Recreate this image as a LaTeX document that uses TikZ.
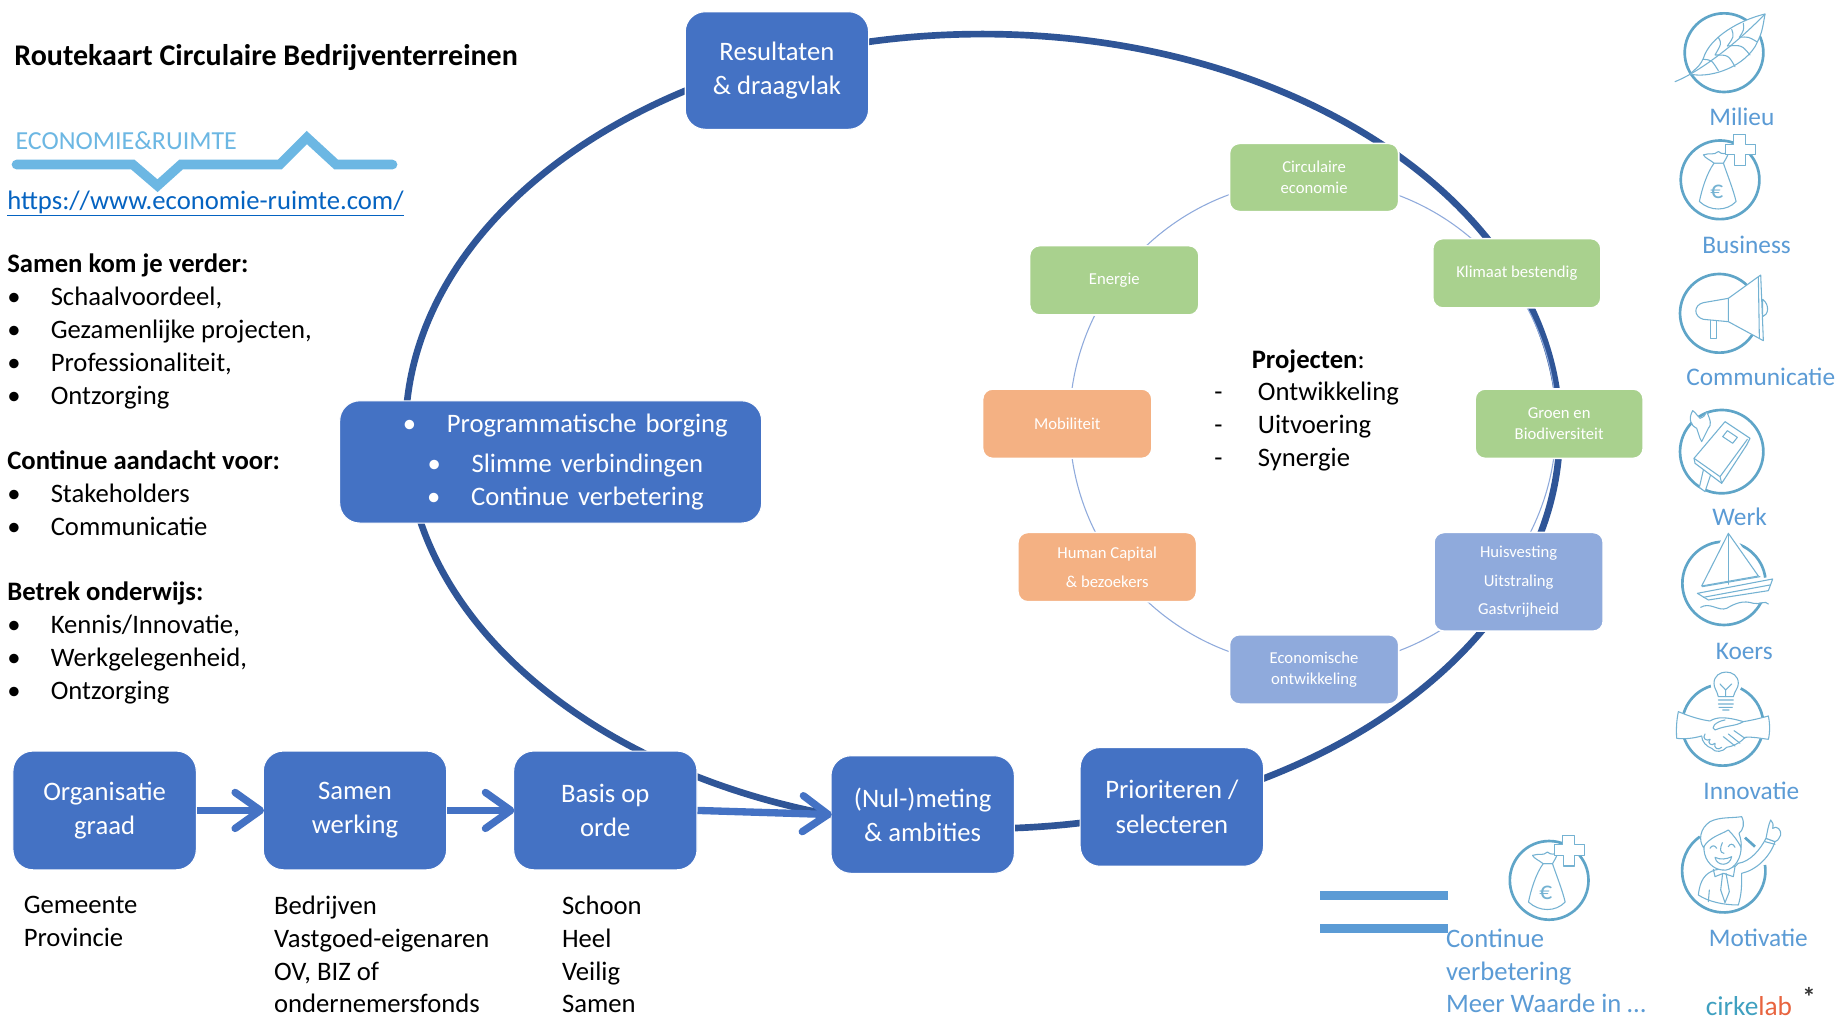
\documentclass[tikz,border=0pt]{standalone}
\usepackage{fontspec}
\setmainfont{Carlito}
\usetikzlibrary{arrows.meta}
\definecolor{boxblue}{HTML}{4472C4}
\definecolor{darkring}{HTML}{2F5597}
\definecolor{innergreen}{HTML}{A9D18E}
\definecolor{innerorange}{HTML}{F4B183}
\definecolor{innerblue}{HTML}{8FAADC}
\definecolor{labelblue}{HTML}{5B9BD5}
\definecolor{logoblue}{HTML}{6CB7E3}
\definecolor{linkblue}{HTML}{0563C1}
\definecolor{ringicon}{HTML}{5FA5C8}
\definecolor{thinicon}{HTML}{74B2D2}
\definecolor{cirkblue}{HTML}{3FA0C0}
\definecolor{cirkred}{HTML}{E8643F}
\newcommand{\mainfs}{\fontsize{20}{24.6}\selectfont}
\newcommand{\bigbox}[6]{\node[bigstyle,minimum width={(#4-#2)*0.88155pt},minimum height={(#5-#3)*0.88155pt}] (#1) at ({(#2+#4)/2},{(#3+#5)/2}) {#6};}
\newcommand{\smallbox}[7]{\node[smallstyle,fill=#6,minimum width={(#4-#2)*0.88155pt},minimum height={(#5-#3)*0.88155pt}] (#1) at ({(#2+#4)/2},{(#3+#5)/2}) {#7};}
\newcommand{\lbl}[4]{\node[labelstyle] (#1) at (#2,#3) {#4};}
\newcommand{\bul}[1]{\makebox[32.6pt][l]{•}#1}
\newcommand{\bagicon}[2]{%
\begin{scope}[shift={(#1,#2)},scale=.2836]
\draw[iconring] (0,0) circle (118);
\filldraw[iconthin,fill=white] (-18,-50) .. controls (-40,-20) and (-55,30) .. (-62,65) .. controls (-30,95) and (20,95) .. (48,65) .. controls (40,30) and (20,-20) .. (10,-50) -- cycle;
\filldraw[iconthin,fill=white] (-18,-50) .. controls (-30,-60) and (-45,-65) .. (-50,-75) .. controls (-30,-82) and (-20,-72) .. (-5,-85) .. controls (5,-75) and (15,-80) .. (25,-80) .. controls (20,-65) and (15,-60) .. (10,-50) -- cycle;
\filldraw[iconthin,fill=white] (40,-135) -- (75,-135) -- (75,-107) -- (106,-107) -- (106,-75) -- (75,-75) -- (75,-43) -- (43,-43) -- (43,-75) -- (15,-75) -- (15,-107) -- (40,-107) -- cycle;
\node[text=thinicon,font=\fontsize{19}{19}\selectfont,inner sep=0pt] at (-10,37) {€};
\end{scope}}
\tikzset{
  x=0.88155pt,y=-0.88155pt,
  bigstyle/.style={rounded corners=15pt,fill=boxblue,draw=white,line width=.8pt,text=white,align=center,inner sep=0pt,font=\mainfs},
  smallstyle/.style={rounded corners=7.5pt,draw=white,line width=1.2pt,text=white,align=center,inner sep=0pt,font=\fontsize{12.5}{15.5}\selectfont},
  labelstyle/.style={text=labelblue,inner sep=0pt,font=\fontsize{19}{19}\selectfont},
  bodytext/.style={anchor=north west,align=left,inner sep=0pt,font=\mainfs},
  flowarrow/.style={line width=5.5pt,draw=boxblue,-{Straight Barb[length=19pt,width=27pt,line width=5.5pt,round]},shorten >=-1pt},
  iconring/.style={draw=ringicon,line width=2pt},
  iconthin/.style={draw=thinicon,line width=.8pt,line join=round,line cap=round},
}
\begin{document}
\begin{tikzpicture}
\path[use as bounding box,fill=white] (0,0) rectangle (1568,867);

% big ring and inner ring
\draw[darkring,line width=5pt] (836,367) ellipse [x radius=491,y radius=338];
\draw[innerblue,line width=.8pt] (1117,360) circle (207);

% main boxes
\bigbox{res}{583}{10}{739}{110}{Resultaten\\[1pt]\& draagvlak}
\node[bigstyle,text width={(648-289)*0.88155pt},minimum height={(445-341)*0.88155pt}] (prog) at (468.5,393) {\fontsize{20}{30.4}\selectfont\hspace*{22pt}\makebox[33pt][l]{•}Programmatische borging\\\hspace*{22pt}\makebox[33pt][l]{•}Slimme verbindingen\\\hspace*{22pt}\makebox[33pt][l]{•}Continue verbetering};
\bigbox{org}{11}{639}{167}{740}{Organisatie\\[1pt]graad}
\bigbox{sam}{224}{639}{380}{740}{Samen\\[1pt]werking}
\bigbox{bas}{437}{639}{593}{740}{Basis op\\[1pt]orde}
\bigbox{nul}{707}{643}{863}{743}{(Nul-)meting\\[1pt]\& ambities}
\bigbox{pri}{919}{636}{1075}{737}{Prioriteren /\\[1pt]selecteren}
\draw[flowarrow] (org) -- (sam);
\draw[flowarrow] (sam) -- (bas);
\draw[flowarrow] (bas.east) -- (nul.west);

% inner boxes
\smallbox{cir}{1046}{122}{1190}{180}{innergreen}{Circulaire\\economie}
\smallbox{kli}{1219}{203}{1362}{262}{innergreen}{Klimaat bestendig}
\smallbox{gro}{1255}{331}{1398}{390}{innergreen}{Groen en\\Biodiversiteit}
\smallbox{hui}{1220}{453}{1364}{537}{innerblue}{Huisvesting\\[6pt]Uitstraling\\[6pt]Gastvrijheid}
\smallbox{eco}{1046}{540}{1190}{599}{innerblue}{Economische\\ontwikkeling}
\smallbox{hum}{866}{453}{1018}{512}{innerorange}{Human Capital\\[6pt]\& bezoekers}
\smallbox{mob}{836}{331}{980}{390}{innerorange}{Mobiliteit}
\smallbox{ene}{876}{209}{1020}{268}{innergreen}{Energie}

% texts
\node[anchor=west,inner sep=0pt,font=\fontsize{22.5}{26}\selectfont\bfseries] (title) at (12,49) {Routekaart Circulaire Bedrijventerreinen};
\node[anchor=west,inner sep=0pt,text=linkblue,font=\mainfs] (link) at (6,173) {\underline{https://www.economie-ruimte.com/}};
\node[bodytext] (left) at (6,216) {\textbf{Samen kom je verder:}\\\bul{Schaalvoordeel,}\\\bul{Gezamenlijke projecten,}\\\bul{Professionaliteit,}\\\bul{Ontzorging}\\\mbox{}\\\textbf{Continue aandacht voor:}\\\bul{Stakeholders}\\\bul{Communicatie}\\\mbox{}\\\textbf{Betrek onderwijs:}\\\bul{Kennis/Innovatie,}\\\bul{Werkgelegenheid,}\\\bul{Ontzorging}};
\node[bodytext] (gem) at (20,762) {Gemeente\\Provincie};
\node[bodytext] (bed) at (233,762) {Bedrijven\\Vastgoed-eigenaren\\OV, BIZ of\\ondernemersfonds};
\node[bodytext] (sch) at (478,762) {Schoon\\Heel\\Veilig\\Samen};
\node[bodytext] (pro) at (1033,297) {\hspace*{28pt}\textbf{Projecten}:\\\makebox[32.6pt][l]{-}Ontwikkeling\\\makebox[32.6pt][l]{-}Uitvoering\\\makebox[32.6pt][l]{-}Synergie};
\node[bodytext,text=labelblue] (con) at (1230,790) {Continue\\verbetering\\Meer Waarde in \dots};

% right labels
\lbl{mil}{1482}{99}{Milieu}
\lbl{bus}{1486}{208}{Business}
\lbl{com}{1498}{321}{Communicatie}
\lbl{wer}{1480}{440}{Werk}
\lbl{koe}{1484}{554}{Koers}
\lbl{inn}{1490}{673}{Innovatie}
\lbl{mot}{1496}{798}{Motivatie}
\node[inner sep=0pt,font=\fontsize{20.5}{20}\selectfont] (cirk) at (1488,856) {\textcolor{cirkblue}{cirke}\textcolor{cirkred}{lab}};
\node[inner sep=0pt,font=\fontsize{20}{20}\selectfont\bfseries,text=black!80] (star) at (1539,848) {*};

% equals sign
\fill[labelblue] (1123,758) rectangle (1232,766);
\fill[labelblue] (1123,786) rectangle (1232,794);

% logo
\draw[logoblue,line width=7.2pt,line cap=round,line join=miter] (14,140) -- (113,140) -- (134,158) -- (154,140) -- (238,140) -- (261,117) -- (286,140) -- (334,140);
\node[anchor=west,inner sep=0pt,text=logoblue,font=\fontsize{19.5}{20}\selectfont] (logo) at (13,120) {ECONOMIE\&RUIMTE};

% Icons, zoom-pixel coordinates
\begin{scope}[shift={(1395.3,0)},scale=.2836]
 % leaf
 \draw[iconring] (252,158) circle (118);
 \filldraw[iconthin,fill=white] (375,42) .. controls (300,60) and (210,110) .. (190,175) .. controls (180,195) .. (150,222) .. controls (200,235) and (300,210) .. (345,140) .. controls (365,100) .. (375,42) -- cycle;
 \draw[iconthin] (105,245) .. controls (180,215) and (290,130) .. (375,42);
 \draw[iconthin] (235,112) .. controls (245,130) .. (225,165) (275,88) .. controls (282,110) .. (262,138) (310,70) .. controls (312,90) .. (298,112) (190,178) .. controls (215,180) .. (235,212) (225,165) .. controls (265,165) .. (285,200) (262,138) .. controls (305,135) .. (330,165) (298,112) .. controls (325,110) .. (350,125);
 % megaphone
 \draw[iconring] (238,940) circle (118);
 \filldraw[iconthin,fill=white] (368,900) arc (-90:90:-1) .. controls (390,915) and (385,945) .. (368,950) -- cycle;
 \filldraw[iconthin,fill=white] (210,950) -- (210,1015) -- (228,1015) -- (228,950) -- cycle;
 \filldraw[iconthin,fill=white] (190,908) -- (265,895) -- (362,825) -- (370,1022) -- (265,965) -- (190,958) .. controls (160,950) and (160,915) .. (190,908) -- cycle;
 \draw[iconthin] (265,895) -- (265,965) (355,832) -- (358,1015);
\end{scope}
\begin{scope}[shift={(1395.3,340.3)},scale=.2836]
 % book and wrench
 \draw[iconring] (245,155) circle (125);
 \filldraw[iconthin,fill=white] (185,125) -- (205,85) .. controls (215,75) and (212,62) .. (200,35) .. controls (192,50) .. (180,55) .. controls (172,50) and (170,40) .. (158,32) .. controls (145,55) and (150,75) .. (170,85) -- (180,115) -- cycle;
 \filldraw[iconthin,fill=white] (190,210) -- (178,262) -- (195,275) -- (215,215) -- cycle;
 \filldraw[iconthin,fill=white] (255,65) -- (330,115) -- (320,135) -- (245,250) -- (165,190) -- (162,175) -- cycle;
 \draw[iconthin] (162,175) -- (240,230) -- (322,118) (240,230) -- (245,250);
 \filldraw[iconthin,fill=white] (262,92) -- (292,112) -- (278,130) -- (248,110) -- cycle;
 % boat
 \draw[iconring] (252,550) circle (125);
 \filldraw[iconthin,fill=white,draw=white,line width=5pt] (265,400) -- (185,558) -- (355,528) -- cycle;
 \filldraw[iconthin,fill=white] (265,400) -- (185,558) -- (355,528) -- cycle;
 \draw[iconthin] (265,400) -- (265,555);
 \filldraw[iconthin,fill=white,draw=white,line width=4pt] (172,580) -- (398,537) -- (385,600) -- (205,600) -- cycle;
 \filldraw[iconthin,fill=white] (172,580) -- (398,537) -- (385,572) -- (205,600) -- cycle;
 \draw[iconthin] (187,560) -- (360,530) (190,592) -- (390,555);
 \draw[iconthin] (182,622) .. controls (210,605) and (235,635) .. (260,625) .. controls (285,610) and (310,600) .. (340,610) .. controls (360,615) and (375,600) .. (385,612);
\end{scope}
\begin{scope}[shift={(1412.3,561.5)},scale=.2836]
 % lamp and hands
 \draw[iconring] (188,195) circle (122);
 \filldraw[iconthin,fill=white,draw=white,line width=5pt] (175,110) .. controls (170,90) and (162,85) .. (162,70) .. controls (162,25) and (235,25) .. (235,70) .. controls (235,85) and (225,90) .. (220,110) -- (215,150) -- (180,150) -- cycle;
 \filldraw[iconthin,fill=white] (175,110) .. controls (170,90) and (162,85) .. (162,70) .. controls (162,25) and (235,25) .. (235,70) .. controls (235,85) and (225,90) .. (220,110) -- cycle;
 \draw[iconthin] (197,110) -- (197,90) -- (180,72) (197,90) -- (215,72) (175,120) -- (220,120) (175,132) -- (220,132) (177,142) -- (217,142) (188,150) -- (207,150);
 \filldraw[iconthin,fill=white] (55,155) .. controls (90,170) and (125,180) .. (150,183) .. controls (170,170) and (200,170) .. (250,185) .. controls (280,180) and (300,175) .. (325,168) .. controls (330,190) and (330,220) .. (325,238) .. controls (300,235) and (280,230) .. (255,232) .. controls (240,250) and (215,260) .. (200,262) .. controls (190,275) and (165,280) .. (155,265) .. controls (140,260) and (125,245) .. (125,228) .. controls (100,235) and (75,238) .. (50,235) .. controls (48,205) and (50,180) .. (55,155) -- cycle;
 \draw[iconthin] (250,185) .. controls (225,200) and (200,195) .. (165,210) .. controls (150,205) and (165,185) .. (195,180) (190,230) -- (225,258) (205,222) -- (240,250) (222,212) -- (255,235) (135,222) .. controls (125,235) and (140,245) .. (150,238) (150,238) .. controls (140,250) and (155,260) .. (165,250) (165,250) .. controls (160,265) and (175,272) .. (185,262);
 % man
 \draw[iconring] (135,535) arc (125:-8:-0.01);
 \draw[iconring] (255,533) -- (285,560);
 \draw[iconring] (315,615) arc (-8:235:125);
 \filldraw[iconthin,fill=white] (115,705) .. controls (120,660) and (135,640) .. (165,630) -- (225,620) -- (235,610) .. controls (270,605) and (300,570) .. (318,535) -- (345,545) .. controls (330,590) and (290,630) .. (245,640) .. controls (245,680) and (245,700) .. (235,735) .. controls (190,735) and (145,725) .. (115,705) -- cycle;
 \filldraw[iconthin,fill=white] (318,535) .. controls (322,515) and (325,495) .. (332,480) .. controls (340,485) and (340,495) .. (338,505) .. controls (350,495) and (365,510) .. (362,525) .. controls (355,540) and (350,545) .. (345,545) -- cycle;
 \draw[iconthin] (315,545) -- (345,553);
 \filldraw[iconthin,fill=white] (132,570) .. controls (130,540) and (145,510) .. (190,505) .. controls (225,505) and (245,530) .. (243,570) .. controls (240,605) and (215,635) .. (187,630) .. controls (160,628) and (135,605) .. (132,570) -- cycle;
 \filldraw[iconthin,fill=white] (130,562) .. controls (115,540) and (120,505) .. (150,485) .. controls (180,470) and (215,475) .. (245,470) .. controls (255,490) and (250,510) .. (237,520) .. controls (242,535) and (245,550) .. (243,562) .. controls (235,545) and (220,525) .. (205,510) .. controls (180,525) and (150,530) .. (130,562) -- cycle;
 \draw[iconthin] (150,565) .. controls (155,555) and (165,555) .. (170,565) (205,560) .. controls (210,550) and (220,550) .. (225,562) (187,548) .. controls (180,565) and (178,578) .. (192,580);
 \filldraw[iconthin,fill=white] (165,592) .. controls (180,600) and (200,598) .. (215,590) .. controls (210,620) and (170,620) .. (165,592) -- cycle;
 \draw[iconthin] (160,628) -- (165,650) -- (190,640) -- (220,650) -- (225,620) (188,640) -- (182,690) -- (195,728) -- (208,695) -- (198,640) (148,690) -- (145,725);
\end{scope}
\bagicon{1463.4}{153}
\bagicon{1318}{749}
\end{tikzpicture}
\end{document}
